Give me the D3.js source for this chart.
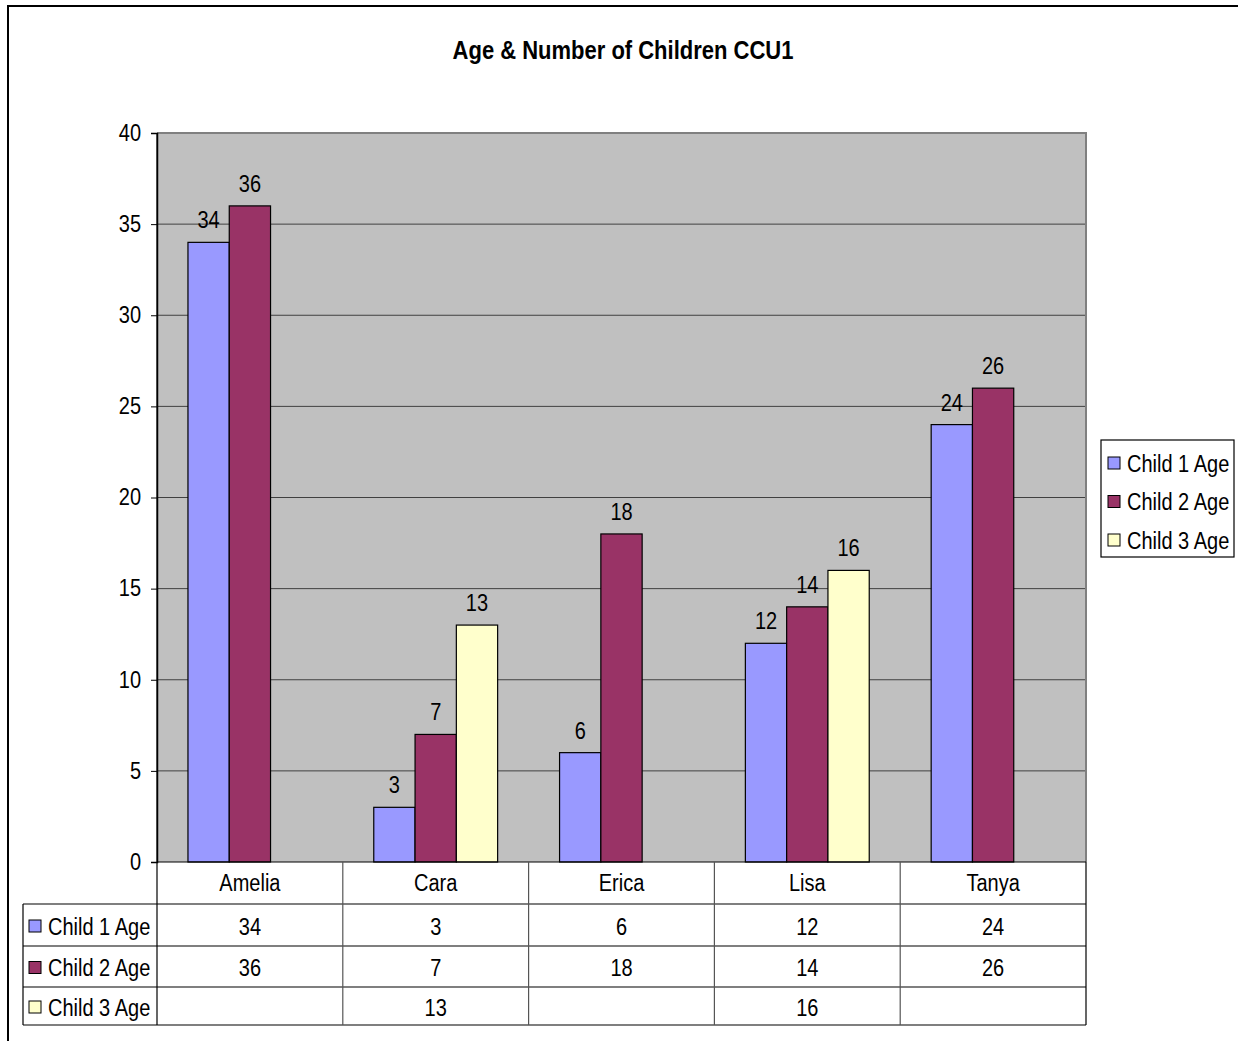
<!DOCTYPE html>
<html>
<head>
<meta charset="utf-8">
<script src="https://cdn.jsdelivr.net/npm/d3@7"></script>
<style>
  html, body { margin: 0; padding: 0; background: #fff; }
  svg { display: block; font-family: "Liberation Sans", Arial, sans-serif; }
</style>
</head>
<body>
<svg id="chart" width="1238" height="1041"></svg>
<script>
// Chart data
const categories = ["Amelia", "Cara", "Erica", "Lisa", "Tanya"];
const seriesNames = ["Child 1 Age", "Child 2 Age", "Child 3 Age"];
const child1Age = [34, 3, 6, 12, 24];
const child2Age = [36, 7, 18, 14, 26];
const child3Age = [null, 13, null, 16, null];
const yTicks = [0, 5, 10, 15, 20, 25, 30, 35, 40];
const titleText = "Age & Number of Children CCU1";

const seriesValues = [child1Age, child2Age, child3Age];
const seriesColors = ["#9999ff", "#993366", "#ffffcc"];

const svg = d3.select("#chart");

// Outer chart frame
svg.append("rect")
  .attr("x", 8).attr("y", 6)
  .attr("width", 1300).attr("height", 1100)
  .attr("fill", "#fff").attr("stroke", "#000").attr("stroke-width", 2);

// Title
svg.append("text")
  .attr("x", 623).attr("y", 59)
  .attr("text-anchor", "middle")
  .attr("font-size", 22).attr("font-weight", "bold")
  .text(titleText);

// Plot area geometry
const plot = { left: 157, right: 1086, top: 133, bottom: 862 };

const x0 = d3.scaleBand().domain(categories).range([plot.left, plot.right]).padding(0);
const x1 = d3.scaleBand().domain(seriesNames).range([0, x0.bandwidth()])
  .paddingInner(0).paddingOuter(0.75);
const y = d3.scaleLinear().domain([0, 40]).range([plot.bottom, plot.top]);

// Plot background
svg.append("rect")
  .attr("x", plot.left).attr("y", plot.top)
  .attr("width", plot.right - plot.left).attr("height", plot.bottom - plot.top)
  .attr("fill", "#c0c0c0");

// Horizontal gridlines
svg.append("g")
  .selectAll("line")
  .data(yTicks.filter(t => t > 0 && t < 40))
  .join("line")
  .attr("x1", plot.left).attr("x2", plot.right)
  .attr("y1", d => y(d)).attr("y2", d => y(d))
  .attr("stroke", "#404040").attr("stroke-width", 1);

// Plot area border (top and right)
svg.append("path")
  .attr("d", `M${plot.left},${plot.top}H${plot.right}V${plot.bottom}`)
  .attr("fill", "none").attr("stroke", "#808080").attr("stroke-width", 2);

// Bars
const barGroups = svg.append("g");
seriesNames.forEach((name, si) => {
  const rows = categories.map((c, ci) => ({ c, v: seriesValues[si][ci] }))
    .filter(d => d.v !== null);
  barGroups.append("g")
    .selectAll("rect")
    .data(rows)
    .join("rect")
    .attr("x", d => x0(d.c) + x1(name))
    .attr("y", d => y(d.v))
    .attr("width", x1.bandwidth())
    .attr("height", d => y(0) - y(d.v))
    .attr("fill", seriesColors[si])
    .attr("stroke", "#000").attr("stroke-width", 1.2);

  // Value labels above bars
  barGroups.append("g")
    .selectAll("text")
    .data(rows)
    .join("text")
    .attr("x", d => x0(d.c) + x1(name) + x1.bandwidth() / 2)
    .attr("y", d => y(d.v) - 14)
    .attr("text-anchor", "middle")
    .attr("font-size", 20)
    .text(d => d.v);
});

// Y axis
const yAxis = svg.append("g")
  .attr("transform", `translate(${plot.left},0)`)
  .call(d3.axisLeft(y).tickValues(yTicks).tickSize(6).tickPadding(10));
yAxis.select(".domain").attr("stroke", "#000").attr("stroke-width", 1.5);
yAxis.selectAll(".tick line").attr("stroke", "#000");
yAxis.selectAll(".tick text")
  .attr("font-size", 20)
  .attr("font-family", "Liberation Sans, Arial, sans-serif")
  .attr("fill", "#000");

// Data table below the plot
const rowEdges = [862, 904, 946, 987, 1025];
const tableLeft = 23;
const table = svg.append("g").attr("stroke", "#000").attr("stroke-width", 1.2);

// Horizontal rules
rowEdges.forEach((ry, i) => {
  table.append("line")
    .attr("x1", i === 0 ? plot.left : tableLeft).attr("x2", plot.right)
    .attr("y1", ry).attr("y2", ry);
});
// Vertical rules
const colEdges = categories.map(c => x0(c)).concat([plot.right]);
colEdges.forEach((cx, i) => {
  table.append("line")
    .attr("x1", cx).attr("x2", cx)
    .attr("y1", i === 0 ? plot.top : rowEdges[0]).attr("y2", rowEdges[4])
    .attr("stroke", i === 0 || i === colEdges.length - 1 ? "#000" : "#555");
});
table.append("line")
  .attr("x1", tableLeft).attr("x2", tableLeft)
  .attr("y1", rowEdges[1]).attr("y2", rowEdges[4]);

// Category headers
svg.append("g")
  .selectAll("text")
  .data(categories)
  .join("text")
  .attr("x", d => x0(d) + x0.bandwidth() / 2)
  .attr("y", (rowEdges[0] + rowEdges[1]) / 2 + 8)
  .attr("text-anchor", "middle")
  .attr("font-size", 20)
  .text(d => d);

// Series rows: key, name and values
seriesNames.forEach((name, si) => {
  const midY = (rowEdges[si + 1] + rowEdges[si + 2]) / 2;
  svg.append("rect")
    .attr("x", 29).attr("y", midY - 5)
    .attr("width", 12).attr("height", 12)
    .attr("fill", seriesColors[si]).attr("stroke", "#000").attr("stroke-width", 1);
  svg.append("text")
    .attr("x", 48).attr("y", midY + 10)
    .attr("font-size", 20)
    .text(name);
  svg.append("g")
    .selectAll("text")
    .data(categories.map((c, ci) => ({ c, v: seriesValues[si][ci] })).filter(d => d.v !== null))
    .join("text")
    .attr("x", d => x0(d.c) + x0.bandwidth() / 2)
    .attr("y", midY + 10)
    .attr("text-anchor", "middle")
    .attr("font-size", 20)
    .text(d => d.v);
});

// Legend
const legend = svg.append("g");
legend.append("rect")
  .attr("x", 1101).attr("y", 440)
  .attr("width", 133).attr("height", 117)
  .attr("fill", "#fff").attr("stroke", "#000").attr("stroke-width", 1.2);
seriesNames.forEach((name, si) => {
  const ly = 462 + si * 38.5;
  legend.append("rect")
    .attr("x", 1108).attr("y", ly - 5)
    .attr("width", 12).attr("height", 12)
    .attr("fill", seriesColors[si]).attr("stroke", "#000").attr("stroke-width", 1);
  legend.append("text")
    .attr("x", 1127).attr("y", ly + 10)
    .attr("font-size", 20)
    .text(name);
});

// Stretch all glyphs vertically about their baseline for a narrow, tall face
const stretch = 1.15;
svg.selectAll("text").each(function () {
  const t = d3.select(this);
  const by = +(t.attr("y") || 0);
  t.attr("transform", `translate(0,${by * (1 - stretch)}) scale(1,${stretch})`);
});
</script>
</body>
</html>
